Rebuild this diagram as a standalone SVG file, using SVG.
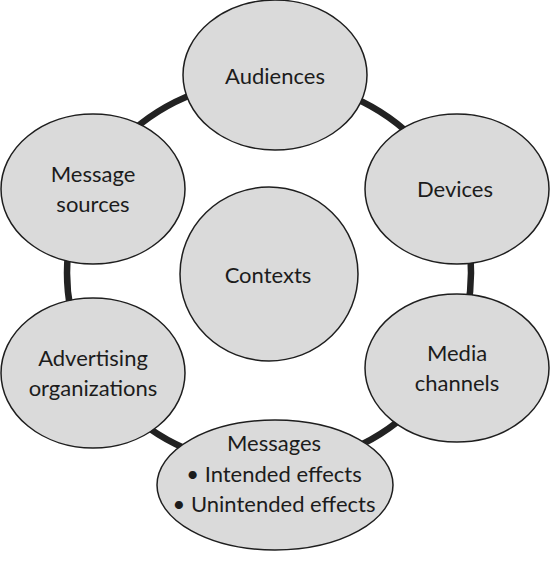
<svg xmlns="http://www.w3.org/2000/svg" width="550" height="567" viewBox="0 0 550 567">
<style>
.node{fill:#dadada;stroke:#1e1e1e;stroke-width:1.5}
.ring{fill:none;stroke:#222;stroke-width:6.5}
text{font-family:Lato,"Open Sans","Liberation Sans",sans-serif;font-size:22px;fill:#1c1c1c;text-anchor:middle}
</style>
<rect width="550" height="567" fill="#fff"/>
<g id="connectors">
<ellipse class="ring" cx="269" cy="273" rx="202" ry="193"/>
</g>
<g id="audiences">
<ellipse class="node" cx="275" cy="75" rx="92" ry="75"/>
<text x="275" y="84">Audiences</text>
</g>
<g id="devices">
<ellipse class="node" cx="457" cy="189" rx="92" ry="75"/>
<text x="455" y="197">Devices</text>
</g>
<g id="media-channels">
<ellipse class="node" cx="457" cy="368" rx="92" ry="74"/>
<text x="457" y="361">Media</text>
<text x="457" y="391">channels</text>
</g>
<g id="messages">
<ellipse class="node" cx="275" cy="485" rx="118" ry="65"/>
<text x="274" y="451">Messages</text>
<text x="274" y="482">• Intended effects</text>
<text x="274" y="512">• Unintended effects</text>
</g>
<g id="advertising-organizations">
<ellipse class="node" cx="93" cy="373" rx="92" ry="75"/>
<text x="93" y="366">Advertising</text>
<text x="93" y="396">organizations</text>
</g>
<g id="message-sources">
<ellipse class="node" cx="93" cy="189" rx="92" ry="75"/>
<text x="93" y="182">Message</text>
<text x="93" y="212">sources</text>
</g>
<g id="contexts">
<ellipse class="node" cx="269" cy="274" rx="89" ry="87"/>
<text x="268" y="283">Contexts</text>
</g>
</svg>
